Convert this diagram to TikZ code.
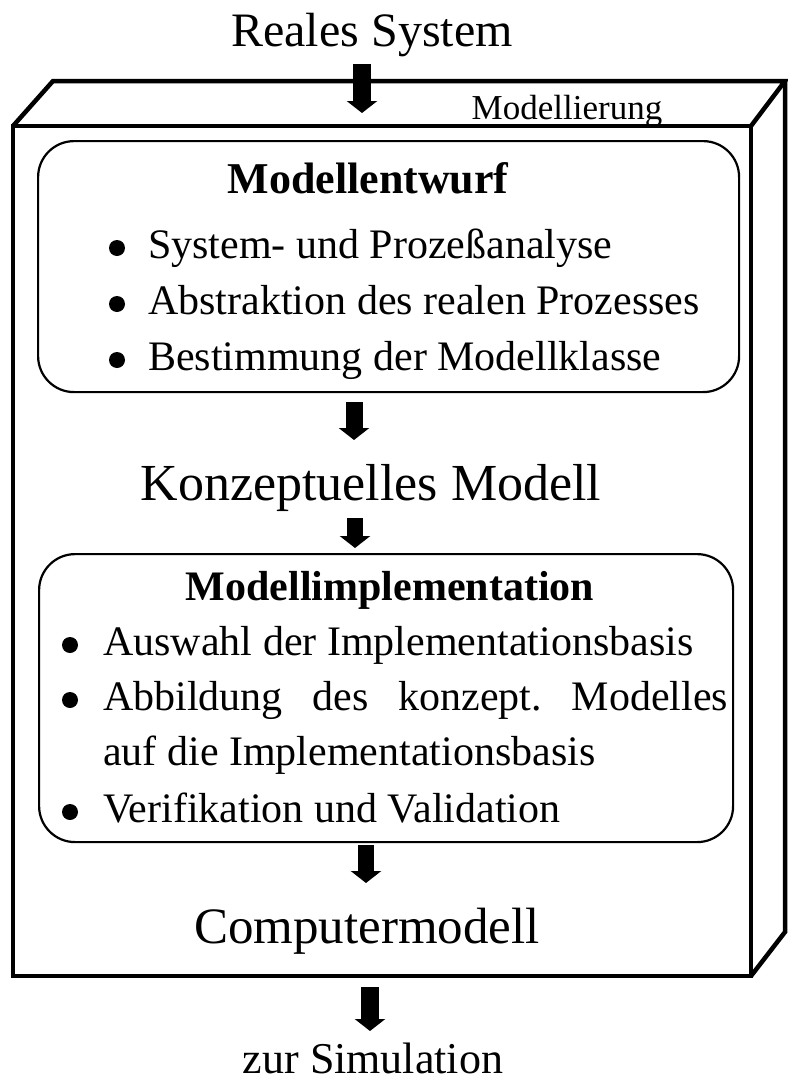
\documentclass[tikz,border=0pt]{standalone}
\usepackage{fontspec}
\setmainfont{Liberation Serif}
\frenchspacing
\usetikzlibrary{arrows.meta}
\tikzset{
  frame/.style={line width=4.5pt, line join=miter},
  roundbox/.style={draw, line width=2.2pt, rounded corners=36pt},
  blockarrow/.style={line width=#1, -{Triangle[width=30pt 0 0, length=12pt 0 0]}},
  txt/.style={inner sep=0pt, anchor=base},
  item/.style={inner sep=0pt, anchor=base west, font=\fontsize{42}{48}\selectfont},
  dot/.style={circle, fill=black, minimum size=16pt, inner sep=0pt},
}
\begin{document}
\begin{tikzpicture}[x=1pt,y=-1pt]
\useasboundingbox (0,0) rectangle (787,1084);
% 3D frame
\coordinate (fTL) at (13,126);
\coordinate (fTR) at (751,126);
\coordinate (fBR) at (751,976);
\coordinate (fBL) at (13,976);
\coordinate (bTL) at (53,81);
\coordinate (bTR) at (785,81);
\coordinate (bBR) at (785,932);
\draw[frame] (fTL) -- (fTR) -- (fBR) -- (fBL) -- cycle;
\draw[frame] (fTL) -- (bTL) -- (bTR) -- (fTR);
\draw[frame] (bTR) -- (bBR) -- (fBR);
% rounded boxes
\node[roundbox, minimum width=701pt, minimum height=251pt, anchor=north west, inner sep=0pt] (box1) at (37,140) {};
\node[roundbox, minimum width=694pt, minimum height=288pt, anchor=north west, inner sep=0pt] (box2) at (38,553) {};
% texts
\node[txt, font=\fontsize{48}{52}\selectfont] (reales) at (372,46) {Reales System};
\node[txt, font=\fontsize{35}{40}\selectfont] (modl) at (567,119) {Modellierung};
\node[txt, font=\fontsize{44}{48}\selectfont\bfseries] (entw) at (368,193) {Modellentwurf};
\node[dot] (d1) at (117,248) {};
\node[item] (i1) at (148,258) {System- und Prozeßanalyse};
\node[dot] (d2) at (117,304) {};
\node[item] (i2) at (148,314) {Abstraktion des realen Prozesses};
\node[dot] (d3) at (117,360) {};
\node[item] (i3) at (148,370) {Bestimmung der Modellklasse};
\node[txt, font=\fontsize{52}{56}\selectfont] (konz) at (371,500) {Konzeptuelles Modell};
\node[txt, font=\fontsize{42}{48}\selectfont\bfseries] (impl) at (390,600) {Modellimplementation};
\node[dot] (d4) at (70,645) {};
\node[item] (j1) at (103,655) {Auswahl der Implementationsbasis};
\node[dot] (d5) at (70,700) {};
\node[item] (j2) at (103,710) {\makebox[625pt][s]{Abbildung des konzept. Modelles}};
\node[item] (j3) at (103,765) {auf die Implementationsbasis};
\node[dot] (d6) at (70,812) {};
\node[item] (j4) at (103,822) {Verifikation und Validation};
\node[txt, font=\fontsize{51}{56}\selectfont] (comp) at (367,943) {Computermodell};
\node[txt, font=\fontsize{44}{48}\selectfont] (sim) at (373,1073) {zur Simulation};
% arrows
\coordinate (a1s) at (362,64);  \coordinate (a1e) at (362,113);
\coordinate (a2s) at (354,402); \coordinate (a2e) at (354,440);
\coordinate (a3s) at (355,518); \coordinate (a3e) at (355,548);
\coordinate (a4s) at (366,845); \coordinate (a4e) at (366,883);
\coordinate (a5s) at (370,987); \coordinate (a5e) at (370,1031);
\draw[blockarrow=18pt] (a1s) -- (a1e);
\draw[blockarrow=17pt] (a2s) -- (a2e);
\draw[blockarrow=16pt] (a3s) -- (a3e);
\draw[blockarrow=16pt] (a4s) -- (a4e);
\draw[blockarrow=18pt] (a5s) -- (a5e);
\end{tikzpicture}
\end{document}
